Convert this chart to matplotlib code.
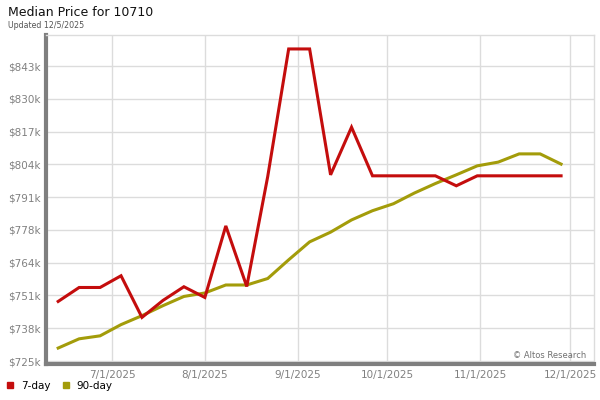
import datetime as dt
import matplotlib
matplotlib.use('Agg')
import matplotlib.pyplot as plt
import matplotlib.dates as mdates
from matplotlib.ticker import FixedLocator, FuncFormatter
from matplotlib.lines import Line2D

# weekly points, Friday dates
start = dt.date(2025, 6, 13)
dates = [start + dt.timedelta(weeks=i) for i in range(25)]

seven_day = [748.9, 754.5, 754.5, 759.2, 742.5, 749.3, 754.8, 750.5, 779.2, 754.9,
             799.0, 850.2, 850.2, 799.7, 818.8, 799.3, 799.3, 799.3, 799.3, 795.3,
             799.3, 799.3, 799.3, 799.3, 799.3]
ninety_day = [730.2, 733.9, 735.1, 739.6, 743.2, 747.2, 750.9, 752.3, 755.5, 755.5,
              758.1, 765.6, 772.8, 776.7, 781.6, 785.3, 788.1, 792.4, 796.2, 799.7,
              803.3, 804.8, 808.1, 808.1, 804.0]

y_ticks = [725 + 13.15 * k for k in range(10)]
x_ticks = [dt.date(2025, m, 1) for m in (7, 8, 9, 10, 11, 12)]

RED = '#c40d0d'
OLIVE = '#a39c0a'
GRID = '#dcdcdc'
SPINE = '#7f7f7f'

fig = plt.figure(figsize=(6, 4), dpi=100)
ax = fig.add_axes([0.077, 0.09, 0.913, 0.8225])

ax.plot(dates, seven_day, color=RED, lw=2.2, solid_joinstyle='miter', zorder=3)
ax.plot(dates, ninety_day, color=OLIVE, lw=2.2, solid_joinstyle='miter', zorder=2)

ax.set_xlim(dt.date(2025, 6, 9), dt.date(2025, 12, 9))
ax.set_ylim(723.8, 855.8)

ax.yaxis.set_major_locator(FixedLocator(y_ticks))
ax.yaxis.set_major_formatter(FuncFormatter(lambda v, p: f'${v:.0f}k'))
ax.set_xticks(x_ticks)
ax.xaxis.set_major_formatter(FuncFormatter(
    lambda v, p: f'{mdates.num2date(v).month}/1/{mdates.num2date(v).year}'))

ax.grid(True, color=GRID, lw=1)
ax.set_axisbelow(True)
ax.tick_params(length=0, labelsize=7.5, labelcolor='#808080', pad=4)

for s in ('top', 'right'):
    ax.spines[s].set_color(GRID)
    ax.spines[s].set_linewidth(1)
for s in ('left', 'bottom'):
    ax.spines[s].set_color(SPINE)
    ax.spines[s].set_linewidth(3)

ax.text(0.985, 0.012, '© Altos Research', transform=ax.transAxes, ha='right',
        va='bottom', fontsize=6, color='#707070')

fig.text(8 / 600, 1 - 12 / 400, 'Median Price for 10710', fontsize=9,
         va='center', ha='left', color='#111111')
fig.text(8 / 600, 1 - 25 / 400, 'Updated 12/5/2025', fontsize=5.7,
         va='center', ha='left', color='#555555')

handles = [Line2D([], [], ls='none', marker='s', ms=5, color=RED),
           Line2D([], [], ls='none', marker='s', ms=5, color=OLIVE)]
fig.legend(handles, ['7-day', '90-day'], loc='center left',
           bbox_to_anchor=(0.0, 1 - 386 / 400), ncol=2, frameon=False,
           fontsize=7.5, handletextpad=0.4, columnspacing=0.9,
           handlelength=1.2, borderaxespad=0)

fig.savefig('out.png', dpi=100)
